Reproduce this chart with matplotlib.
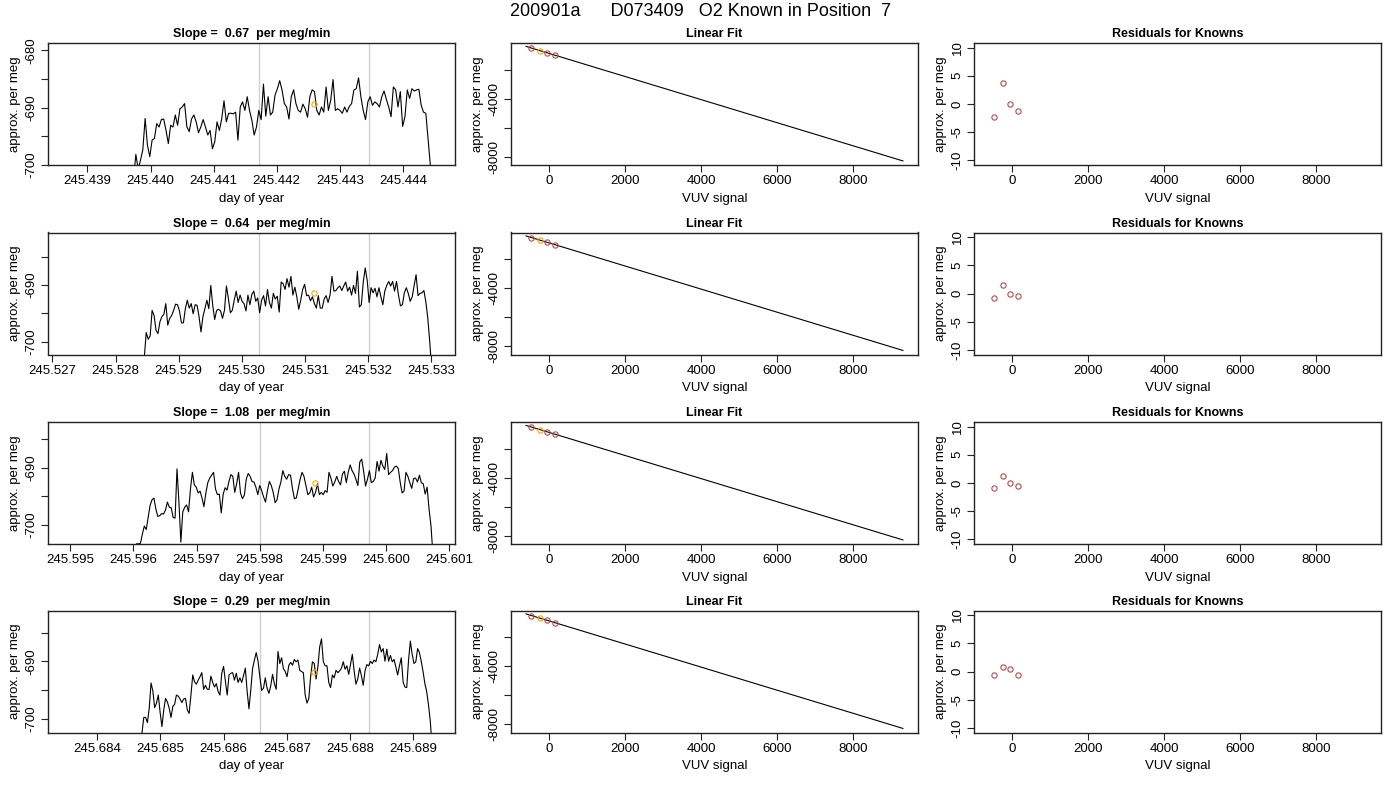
import numpy as np
import matplotlib
matplotlib.use("Agg")
import matplotlib.pyplot as plt

plt.rcParams['font.family'] = ['Liberation Sans', 'DejaVu Sans']
plt.rcParams['font.size'] = 9.5

# ---- data ----
run_title = "200901a      D073409   O2 Known in Position  7"
slopes = [0.67, 0.64, 1.08, 0.29]

# time windows (day of year) of each trace
t_start = [245.439731, 245.528456, 245.596052, 245.684707]
t_end = [245.444475, 245.533011, 245.600740, 245.689298]

trace1 = [-702.5, -698.2, -700.8, -699.2, -697.4, -691.9, -696.6, -698.6, -695.7, -695.4,
          -692.8, -693.4, -692.1, -692.0, -694.0, -696.3, -693.1, -693.4, -691.3, -693.1,
          -690.2, -689.9, -689.3, -693.4, -694.2, -692.0, -691.3, -692.5, -694.4, -693.4,
          -692.1, -693.4, -694.8, -694.0, -697.2, -696.0, -692.5, -694.0, -692.0, -688.8,
          -692.5, -691.0, -691.0, -691.1, -690.8, -695.7, -689.9, -689.0, -690.5, -688.1,
          -690.5, -692.2, -694.8, -693.4, -690.5, -692.1, -685.9, -691.5, -688.1, -691.3,
          -690.8, -687.8, -686.7, -685.3, -686.9, -689.3, -689.9, -692.0, -688.1, -686.9,
          -689.3, -690.5, -690.8, -689.4, -690.2, -691.7, -688.1, -686.9, -687.2, -690.5,
          -691.3, -689.9, -690.8, -686.4, -690.5, -688.7, -685.1, -690.5, -690.2, -690.5,
          -691.0, -689.9, -690.8, -689.8, -689.3, -686.9, -686.7, -684.8, -688.1, -690.5,
          -692.1, -689.0, -688.1, -689.6, -689.0, -689.3, -689.9, -688.1, -687.1, -688.6,
          -689.9, -691.6, -686.4, -686.9, -689.9, -687.2, -693.3, -691.6, -686.9, -688.4,
          -686.7, -687.1, -686.9, -686.8, -689.6, -690.8, -691.0, -695.7, -700.3, -705.0]

trace2 = [-702.8, -698.4, -699.6, -699.0, -694.5, -695.4, -698.0, -698.6, -696.5, -695.6,
          -695.2, -693.3, -697.1, -695.9, -695.4, -694.5, -693.4, -693.5, -694.6, -696.7,
          -696.7, -694.2, -692.7, -694.1, -693.3, -695.1, -693.5, -693.6, -695.6, -698.3,
          -695.6, -694.2, -692.7, -694.2, -690.1, -693.6, -696.1, -694.5, -694.3, -694.6,
          -695.9, -694.5, -690.2, -692.4, -694.9, -694.5, -692.7, -691.1, -693.1, -691.8,
          -692.9, -693.3, -694.6, -691.8, -693.5, -691.7, -691.1, -692.9, -692.3, -694.9,
          -692.7, -691.9, -693.7, -690.8, -693.1, -694.1, -691.5, -692.5, -692.0, -694.8,
          -689.5, -689.8, -690.8, -688.9, -690.4, -688.5, -691.8, -690.4, -692.1, -694.3,
          -692.7, -690.8, -689.9, -691.9, -691.8, -692.8, -692.1, -693.3, -694.1, -691.9,
          -694.1, -694.1, -692.5, -691.9, -693.1, -691.8, -688.5, -691.1, -691.0, -690.5,
          -690.2, -691.0, -690.2, -689.5, -691.1, -690.4, -691.8, -690.1, -691.5, -687.6,
          -693.9, -693.5, -689.5, -687.0, -689.2, -693.1, -690.5, -691.4, -690.6, -692.1,
          -690.5, -692.1, -693.5, -691.1, -690.1, -689.4, -690.2, -689.4, -691.1, -689.4,
          -691.8, -693.7, -693.5, -691.4, -690.5, -691.5, -692.9, -692.1, -690.2, -688.2,
          -691.9, -691.5, -691.4, -691.0, -693.0, -695.9, -700.1, -705.0]

trace3 = [-703.3, -703.3, -703.2, -701.6, -700.2, -700.8, -698.7, -696.6, -695.6, -695.3,
          -697.2, -698.5, -698.4, -698.0, -698.1, -697.4, -696.0, -696.9, -697.0, -698.7,
          -698.8, -690.2, -696.0, -703.0, -697.7, -696.9, -696.5, -697.7, -693.7, -690.8,
          -693.0, -693.4, -694.4, -694.1, -695.3, -696.8, -694.4, -692.6, -691.8, -691.3,
          -690.8, -693.7, -694.7, -694.6, -697.9, -694.6, -693.5, -693.9, -692.4, -691.2,
          -691.5, -694.3, -692.8, -690.8, -694.4, -695.4, -694.8, -692.0, -691.0, -691.5,
          -692.4, -692.5, -693.4, -694.7, -693.1, -694.0, -695.1, -696.0, -694.0, -692.4,
          -693.1, -694.3, -696.1, -695.6, -693.7, -692.5, -690.5, -691.5, -692.0, -691.2,
          -691.3, -693.6, -695.4, -695.3, -693.7, -692.0, -690.8, -691.5, -693.1, -694.7,
          -694.4, -693.4, -695.1, -694.3, -692.8, -694.7, -694.3, -694.7, -694.0, -694.3,
          -690.8, -691.8, -693.2, -692.5, -691.5, -692.4, -693.0, -691.1, -690.6, -692.6,
          -690.8, -689.5, -690.5, -691.1, -692.0, -693.1, -689.0, -688.5, -690.6, -693.2,
          -692.0, -690.5, -692.6, -692.4, -691.8, -688.9, -690.6, -688.7, -689.7, -690.3,
          -687.5, -691.2, -690.8, -690.5, -689.9, -689.7, -690.1, -692.5, -694.4, -694.1,
          -690.8, -691.5, -692.6, -693.6, -691.9, -691.8, -692.5, -691.3, -692.6, -692.8,
          -694.6, -693.4, -697.2, -700.1, -705.0]

trace4 = [-702.5, -699.8, -699.8, -700.7, -698.2, -693.8, -695.2, -698.1, -697.3, -695.9,
          -698.9, -701.4, -698.5, -696.5, -697.1, -698.2, -699.8, -697.9, -697.5, -695.9,
          -696.1, -696.6, -697.2, -696.6, -696.5, -698.5, -699.1, -695.9, -692.4, -693.6,
          -694.0, -693.3, -692.7, -692.0, -694.9, -694.2, -694.9, -694.9, -692.6, -693.7,
          -694.5, -693.9, -695.3, -695.9, -692.1, -690.9, -693.5, -695.9, -692.4, -692.1,
          -692.0, -693.3, -692.1, -693.7, -692.9, -693.7, -692.5, -691.2, -695.3, -698.3,
          -695.0, -691.3, -689.8, -688.5, -690.0, -692.7, -695.1, -694.7, -692.9, -694.7,
          -695.6, -694.3, -692.3, -693.9, -694.9, -688.3, -690.4, -689.4, -691.3, -691.8,
          -692.7, -690.7, -690.2, -690.7, -689.7, -690.1, -689.8, -691.6, -691.8, -692.0,
          -695.9, -697.3, -696.5, -692.7, -690.1, -690.4, -693.1, -691.0, -687.5, -686.1,
          -690.1, -690.8, -690.8, -693.7, -694.6, -692.4, -692.9, -691.6, -692.0, -691.7,
          -691.2, -690.1, -691.4, -690.8, -692.3, -690.6, -688.8, -691.7, -694.0, -693.1,
          -691.2, -692.5, -694.2, -691.7, -690.6, -690.8, -690.0, -690.4, -689.8, -690.1,
          -688.8, -687.1, -688.4, -687.8, -690.0, -687.9, -690.0, -689.0, -690.1, -689.7,
          -691.0, -692.4, -690.8, -689.4, -693.6, -694.5, -694.6, -689.8, -686.5, -688.8,
          -690.4, -690.1, -687.8, -688.5, -690.0, -691.8, -693.9, -695.3, -697.6, -700.5,
          -705.0]
traces = [trace1, trace2, trace3, trace4]

# averaging window boundaries (grey lines)
window_lines = [[245.441725, 245.443463],
                [245.530276, 245.532011],
                [245.598000, 245.599735],
                [245.686567, 245.688300]]

# mean value marker (orange circle)
mean_t = [245.442593, 245.531143, 245.598867, 245.687433]
mean_val = [-689.4, -691.5, -692.7, -691.9]

# linear fit of the knowns
known_vuv = [-475, -240, -65, 160]
known_meg = [-490, -680, -810, -990]
fit_line_vuv = [-610, 9310]
fit_line_meg = [-376, -8279]
fit_highlight = 1  # index of the orange known

residuals = [[-2.3, 3.7, 0.0, -1.2],
             [-0.8, 1.5, 0.0, -0.4],
             [-0.8, 1.2, 0.0, -0.5],
             [-0.7, 0.8, 0.4, -0.6]]

# axis ranges
time_xlim = [(245.438375, 245.444827), (245.52693, 245.53338),
             (245.59465, 245.60109), (245.68322, 245.68966)]
time_ylim = [(-700.05, -678.7), (-702.28, -680.76), (-703.33, -682.0), (-702.43, -681.16)]
time_xticks = [np.arange(245.439, 245.4445, 0.001), np.arange(245.527, 245.5335, 0.001),
               np.arange(245.595, 245.6015, 0.001), np.arange(245.684, 245.6895, 0.001)]

RED = '#c04848'
ORANGE = '#ffa500'
MS = 3.8

fig = plt.figure(figsize=(14, 8), dpi=100)
W, H = 1400.0, 800.0
cols = [(48, 455), (511, 918), (974, 1381)]
rows = [(43, 165), (232.5, 354.5), (422, 544), (610.5, 732.5)]


def make_ax(col, row):
    l, r = cols[col]
    t, b = rows[row]
    ax = fig.add_axes([l / W, 1 - b / H, (r - l) / W, (b - t) / H])
    for s in ax.spines.values():
        s.set_color('#222222')
        s.set_linewidth(1.0)
    ax.tick_params(direction='out', length=5, width=0.8, pad=2.5, labelsize=9.5,
                   color='#222222')
    return ax


def rot_yticks(ax, ticks, labels):
    ax.set_yticks(ticks)
    ax.set_yticklabels(labels, rotation=90, va='center')


for i in range(4):
    # time series panel
    ax = make_ax(0, i)
    vals = traces[i]
    tt = np.linspace(t_start[i], t_end[i], len(vals))
    for wl in window_lines[i]:
        ax.axvline(wl, color='#d0d0d0', lw=1.0, zorder=1)
    ax.plot(tt, vals, color='black', lw=0.8, zorder=2)
    ax.plot([mean_t[i]], [mean_val[i]], 'o', mfc='none', mec=ORANGE, ms=MS, mew=0.8, zorder=3)
    ax.set_xlim(*time_xlim[i])
    ax.set_ylim(*time_ylim[i])
    ax.set_xticks(time_xticks[i])
    ax.set_xticklabels([f"{v:.3f}" for v in time_xticks[i]])
    yt = [v for v in range(-700, -675, 5) if time_ylim[i][0] <= v <= time_ylim[i][1]]
    rot_yticks(ax, yt, [str(v) if v % 10 == 0 else '' for v in yt])
    ax.set_xlabel('day of year', labelpad=4)
    ax.set_ylabel('approx. per meg', labelpad=3)
    ax.set_title(f"Slope =  {slopes[i]:.2f}  per meg/min", fontweight='bold', fontsize=9, pad=4)

    # linear fit panel
    ax = make_ax(1, i)
    ax.plot(fit_line_vuv, fit_line_meg, color='black', lw=0.8, zorder=2)
    for k in range(len(known_vuv)):
        c = ORANGE if k == fit_highlight else RED
        ax.plot([known_vuv[k]], [known_meg[k]], 'o', mfc='none', mec=c, ms=MS, mew=0.8, zorder=3)
    ax.set_xlim(-1007, 9707)
    ax.set_ylim(-8560, -140)
    ax.set_xticks([0, 2000, 4000, 6000, 8000])
    yt = [-8000, -6000, -4000, -2000]
    rot_yticks(ax, yt, ['-8000', '', '-4000', ''])
    ax.set_xlabel('VUV signal', labelpad=4)
    ax.set_ylabel('approx. per meg', labelpad=3)
    ax.set_title('Linear Fit', fontweight='bold', fontsize=9, pad=4)

    # residual panel
    ax = make_ax(2, i)
    ax.plot(known_vuv, residuals[i], 'o', mfc='none', mec=RED, ms=MS, mew=0.8, ls='none')
    ax.set_xlim(-1007, 9707)
    ax.set_ylim(-10.8, 10.8)
    ax.set_xticks([0, 2000, 4000, 6000, 8000])
    rot_yticks(ax, [-10, -5, 0, 5, 10], ['-10', '-5', '0', '5', '10'])
    ax.set_xlabel('VUV signal', labelpad=4)
    ax.set_ylabel('approx. per meg', labelpad=3)
    ax.set_title('Residuals for Knowns', fontweight='bold', fontsize=9, pad=4)

fig.text(0.5, 1 - 12 / H, run_title, ha='center', va='center', fontsize=13)

fig.savefig('out.png', dpi=100)
